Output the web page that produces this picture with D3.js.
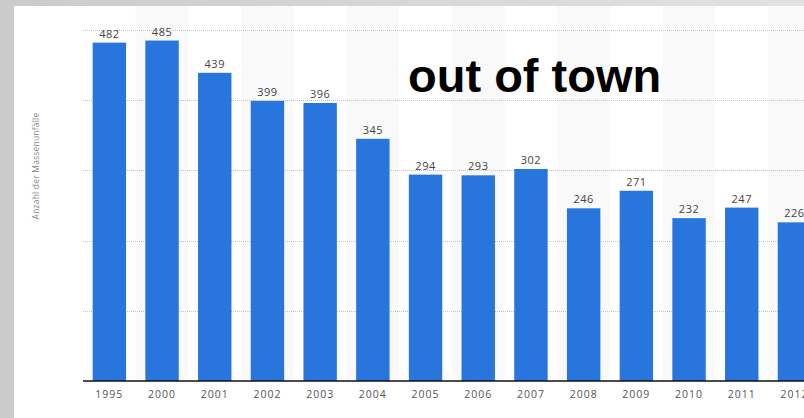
<!DOCTYPE html>
<html>
<head>
<meta charset="utf-8">
<script src="https://cdn.jsdelivr.net/npm/d3@7"></script>
<style>
  html, body { margin: 0; padding: 0; background: #cbcbcb; }
  svg { display: block; }
</style>
</head>
<body>
<svg id="chart" width="804" height="418"></svg>
<script>
// Mass collisions outside built-up areas, per year
const years = ["1995", "2000", "2001", "2002", "2003", "2004", "2005", "2006", "2007", "2008", "2009", "2010", "2011", "2012"];
const counts = [482, 485, 439, 399, 396, 345, 294, 293, 302, 246, 271, 232, 247, 226];
const yTicks = [0, 100, 200, 300, 400, 500];
const yTitle = "Anzahl der Massenunfälle";
const chartTitle = "out of town";

const W = 804, H = 418;
const panel = { x: 14, y: 6 };
const plot = { left: 83, top: 30, bottom: 381 };
const step = 52.7;

const svg = d3.select("#chart");

// frame: grey left edge and a top strip that lightens towards the right
const defs = svg.append("defs");
const grad = defs.append("linearGradient").attr("id", "topStrip")
  .attr("x1", "0%").attr("x2", "100%").attr("y1", "0%").attr("y2", "0%");
grad.append("stop").attr("offset", "0%").attr("stop-color", "#cbcbcb");
grad.append("stop").attr("offset", "100%").attr("stop-color", "#e2e2e2");
svg.append("rect")
  .attr("x", 0).attr("y", 0).attr("width", W).attr("height", panel.y)
  .attr("fill", "url(#topStrip)");

// white panel
svg.append("rect")
  .attr("x", panel.x).attr("y", panel.y)
  .attr("width", W - panel.x).attr("height", H - panel.y)
  .attr("fill", "#ffffff");

const x = d3.scaleBand()
  .domain(years)
  .range([plot.left, plot.left + step * years.length])
  .paddingInner(0.366)
  .paddingOuter(0.183);

const y = d3.scaleLinear()
  .domain([0, 500])
  .range([plot.bottom, plot.top]);

// alternating column shading
svg.append("g").selectAll("rect")
  .data(years.filter((d, i) => i % 2 === 1))
  .join("rect")
  .attr("x", d => x(d) - x.step() * x.paddingInner() / 2)
  .attr("y", panel.y)
  .attr("width", x.step())
  .attr("height", plot.bottom - panel.y)
  .attr("fill", "#f9f9f9");

// dotted gridlines
svg.append("g").selectAll("line")
  .data(yTicks.filter(t => t > 0))
  .join("line")
  .attr("x1", plot.left).attr("x2", W)
  .attr("y1", d => Math.round(y(d)) + 0.5)
  .attr("y2", d => Math.round(y(d)) + 0.5)
  .attr("stroke", "#c4c4c4")
  .attr("stroke-width", 1)
  .attr("stroke-dasharray", "1,1");

// bars
svg.append("g").selectAll("rect")
  .data(years)
  .join("rect")
  .attr("x", d => x(d))
  .attr("y", (d, i) => y(counts[i]))
  .attr("width", x.bandwidth())
  .attr("height", (d, i) => plot.bottom - y(counts[i]))
  .attr("fill", "#2876dd");

// value labels
svg.append("g").selectAll("text")
  .data(years)
  .join("text")
  .attr("x", d => x(d) + x.bandwidth() / 2)
  .attr("y", (d, i) => y(counts[i]) - 5)
  .attr("text-anchor", "middle")
  .attr("font-family", "'Open Sans', sans-serif")
  .attr("font-size", 11)
  .attr("letter-spacing", 0.5)
  .attr("fill", "#444")
  .text((d, i) => counts[i]);

// x axis
const xAxis = svg.append("g")
  .attr("transform", `translate(0,${plot.bottom})`)
  .call(d3.axisBottom(x).tickSize(0).tickPadding(10));
xAxis.select(".domain").remove();
xAxis.append("line")
  .attr("x1", plot.left).attr("x2", W)
  .attr("y1", 0).attr("y2", 0)
  .attr("stroke", "#111").attr("stroke-width", 1.5);
xAxis.selectAll(".tick text")
  .attr("font-family", "'Open Sans', sans-serif")
  .attr("font-size", 10.5)
  .attr("letter-spacing", 1)
  .attr("fill", "#555");

// y axis title
svg.append("text")
  .attr("transform", "translate(39,166) rotate(-90)")
  .attr("text-anchor", "middle")
  .attr("font-family", "'Open Sans', sans-serif")
  .attr("font-size", 8.5)
  .attr("letter-spacing", 0.2)
  .attr("fill", "#888")
  .text(yTitle);

// chart title
svg.append("text")
  .attr("x", 408).attr("y", 92)
  .attr("font-family", "'Liberation Sans', Arial, sans-serif")
  .attr("font-weight", "bold")
  .attr("font-size", 47)
  .attr("fill", "#000")
  .text(chartTitle);
</script>
</body>
</html>
